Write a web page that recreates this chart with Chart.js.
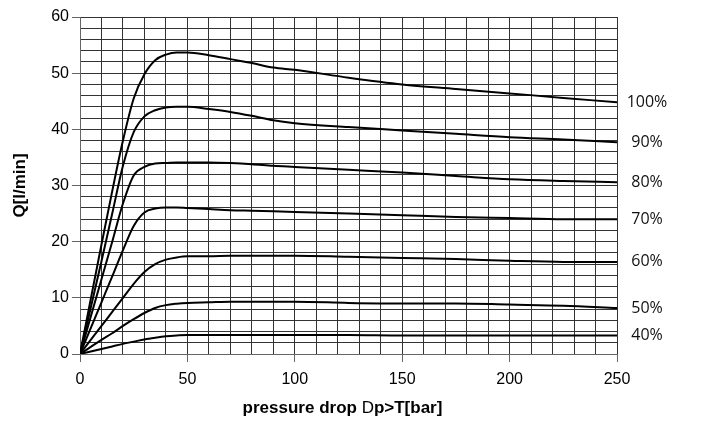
<!DOCTYPE html>
<html>
<head>
<meta charset="utf-8">
<script src="https://cdn.jsdelivr.net/npm/chart.js@4.4.1/dist/chart.umd.min.js"></script>
<style>
  html, body { margin: 0; padding: 0; background: #fff; }
</style>
</head>
<body>
<canvas id="flowChart" width="723" height="428"></canvas>
<script>
// pressure drop [bar] – shared x values for all curves
var pressure = [0, 10, 15, 20, 25, 30, 35, 40, 45, 50, 60, 70, 80, 90, 100, 125, 150, 175, 200, 225, 250];

// flow Q [l/min] for each opening
var q100 = [0, 19.5, 29, 38, 45.5, 49.8, 52.3, 53.3, 53.7, 53.7, 53.2, 52.5, 51.8, 51.0, 50.6, 49.2, 48.0, 47.2, 46.4, 45.6, 44.8];
var q90  = [0, 16.5, 25, 33.5, 39.5, 42.3, 43.4, 43.9, 44.0, 44.0, 43.6, 43.1, 42.4, 41.6, 41.1, 40.4, 39.8, 39.2, 38.6, 38.2, 37.7];
var q80  = [0, 13.3, 20, 26.8, 31.8, 33.3, 33.9, 34.0, 34.1, 34.1, 34.1, 34.0, 33.8, 33.5, 33.3, 32.8, 32.3, 31.7, 31.1, 30.8, 30.6];
var q70  = [0, 9.2, 13.8, 18.5, 22.8, 25.2, 25.9, 26.1, 26.1, 26.0, 25.8, 25.6, 25.5, 25.4, 25.3, 25.0, 24.7, 24.4, 24.2, 24.0, 24.0];
var q60  = [0, 5, 7.5, 10, 12.5, 14.6, 16.0, 16.8, 17.2, 17.4, 17.4, 17.5, 17.5, 17.5, 17.5, 17.3, 17.1, 16.9, 16.6, 16.4, 16.4];
var q50  = [0, 2.5, 3.7, 5, 6.2, 7.3, 8.2, 8.7, 8.95, 9.1, 9.2, 9.3, 9.3, 9.3, 9.3, 9.1, 9.0, 9.0, 8.8, 8.6, 8.2];
var q40  = [0, 0.9, 1.35, 1.8, 2.2, 2.6, 2.9, 3.15, 3.3, 3.4, 3.4, 3.4, 3.4, 3.4, 3.4, 3.4, 3.3, 3.3, 3.3, 3.3, 3.3];

var curveLabels = ['100%', '90%', '80%', '70%', '60%', '50%', '40%'];
var curveValues = [q100, q90, q80, q70, q60, q50, q40];

var xTickLabels = [0, 50, 100, 150, 200, 250];
var yTickLabels = [0, 10, 20, 30, 40, 50, 60];

function toPoints(ys) {
  return pressure.map(function (x, i) { return { x: x, y: ys[i] }; });
}

var datasets = curveLabels.map(function (lbl, i) {
  return {
    label: lbl,
    data: toPoints(curveValues[i]),
    borderColor: '#000',
    borderWidth: 2,
    pointRadius: 0,
    cubicInterpolationMode: 'monotone',
    fill: false
  };
});

var textPlugin = {
  id: 'textPlugin',
  afterDraw: function (chart) {
    var ctx = chart.ctx;
    var area = chart.chartArea;
    var ys = chart.scales.y;

    // percentage labels right of the plot
    ctx.save();
    ctx.fillStyle = '#111';
    ctx.font = '16px "Open Sans"';
    ctx.textAlign = 'center';
    ctx.textBaseline = 'middle';
    curveLabels.forEach(function (lbl, i) {
      var vals = curveValues[i];
      ctx.fillText(lbl, area.right + 30, ys.getPixelForValue(vals[vals.length - 1]));
    });

    // y axis title
    ctx.fillStyle = '#000';
    ctx.font = 'bold 17px "Liberation Sans"';
    ctx.translate(20, (area.top + area.bottom) / 2);
    ctx.rotate(-Math.PI / 2);
    ctx.fillText('Q[l/min]', 0, 0);
    ctx.restore();

    // x axis title with a plain "D"
    ctx.save();
    ctx.fillStyle = '#000';
    ctx.textBaseline = 'middle';
    ctx.textAlign = 'left';
    var parts = [
      ['bold 17px "Liberation Sans"', 'pressure drop '],
      ['17px "Liberation Sans"', 'D'],
      ['bold 17px "Liberation Sans"', 'p>T[bar]']
    ];
    var total = 0;
    parts.forEach(function (p) { ctx.font = p[0]; total += ctx.measureText(p[1]).width; });
    var x = (area.left + area.right) / 2 - 6 - total / 2;
    parts.forEach(function (p) {
      ctx.font = p[0];
      ctx.fillText(p[1], x, 408);
      x += ctx.measureText(p[1]).width;
    });
    ctx.restore();
  }
};

var ctx = document.getElementById('flowChart');
var flowChart = new Chart(ctx, {
  type: 'line',
  data: { datasets: datasets },
  options: {
    responsive: false,
    animation: false,
    layout: { padding: { top: 17, right: 106, bottom: 0, left: 0 } },
    plugins: { legend: { display: false }, tooltip: { enabled: false } },
    scales: {
      x: {
        type: 'linear',
        min: 0,
        max: 250,
        afterFit: function (s) { s.height = 74; },
        border: { color: '#666', width: 1 },
        grid: {
          color: '#333',
          lineWidth: 1,
          tickLength: 8,
          tickColor: function (c) { return xTickLabels.indexOf(c.tick.value) >= 0 ? '#666' : 'rgba(0,0,0,0)'; }
        },
        ticks: {
          stepSize: 10,
          padding: 8,
          color: '#000',
          maxRotation: 0,
          autoSkip: false,
          font: { family: '"Liberation Sans"', size: 16 },
          callback: function (v) { return xTickLabels.indexOf(v) >= 0 ? v : ''; }
        }
      },
      y: {
        min: 0,
        max: 60,
        afterFit: function (s) { s.width = 80; },
        border: { color: '#666', width: 1 },
        grid: {
          color: '#333',
          lineWidth: 1,
          tickLength: 8,
          tickColor: function (c) { return yTickLabels.indexOf(c.tick.value) >= 0 ? '#666' : 'rgba(0,0,0,0)'; }
        },
        ticks: {
          stepSize: 2,
          padding: 3,
          color: '#000',
          autoSkip: false,
          font: { family: '"Liberation Sans"', size: 16 },
          callback: function (v) { return yTickLabels.indexOf(v) >= 0 ? v : ''; }
        }
      }
    }
  },
  plugins: [textPlugin]
});
</script>
</body>
</html>
